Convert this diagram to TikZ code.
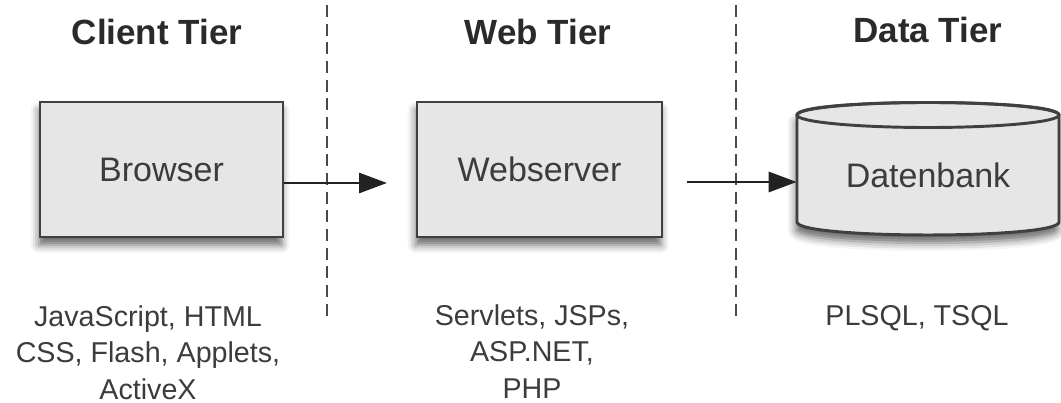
\documentclass[tikz,border=0pt]{standalone}
\usepackage{fontspec}
\setmainfont{Liberation Sans}
\usetikzlibrary{arrows.meta,shadows.blur}
\definecolor{boxfill}{HTML}{E6E6E6}
\definecolor{boxline}{HTML}{404040}
\definecolor{txt}{HTML}{3C3C3C}
\definecolor{titletxt}{HTML}{2A2A2A}
\definecolor{sepcol}{HTML}{4A4A4A}
\definecolor{arrcol}{HTML}{222222}
\begin{document}
\begin{tikzpicture}[x=0.75pt,y=-0.75pt,
  tier/.style={font=\bfseries\fontsize{26.25pt}{30pt}\selectfont, text=titletxt, anchor=base, inner sep=0pt},
  shad/.style={blur shadow={shadow xshift=-1pt, shadow yshift=-6pt, shadow blur radius=6pt, shadow opacity=60}},
  comp/.style={draw=boxline, line width=2.2pt, fill=boxfill, minimum width=243*0.75pt, minimum height=135*0.75pt, font=\fontsize{25.5pt}{30pt}\selectfont, text=txt, shad},
  dblabel/.style={minimum width=262*0.75pt, minimum height=30*0.75pt, inner sep=0pt, font=\fontsize{25.5pt}{30pt}\selectfont, text=txt},
  tech/.style={align=center, anchor=north, inner sep=0pt, font=\fontsize{21.5pt}{27.4pt}\selectfont, text=txt},
  sep/.style={draw=sepcol, line width=2pt, dash pattern=on 9pt off 5pt},
  arr/.style={draw=arrcol, line width=2.2pt, -{Triangle[length=21pt,width=15pt]}}
]
\useasboundingbox (0,0) rectangle (1061,403);

% tier titles
\node[tier] (tclient) at (157,45) {Client Tier};
\node[tier] (tweb) at (538,45) {Web Tier};
\node[tier] (tdata) at (928,43) {Data Tier};

% separators
\coordinate (s1a) at (327,5);
\coordinate (s1b) at (327,322);
\coordinate (s2a) at (736,5);
\coordinate (s2b) at (736,322);
\draw[sep] (s1a) -- (s1b);
\draw[sep] (s2a) -- (s2b);

% components
\node[comp] (browser) at (161.5,169.5) {Browser};
\node[comp, minimum width=245*0.75pt] (webserver) at (539.5,169.5) {Webserver};

% database cylinder
\path[fill=boxfill, draw=boxline, line width=2.2pt, shad]
  (797,115) -- (797,222) .. controls (797,239.3) and (1059,239.3) .. (1059,222)
  -- (1059,115) .. controls (1059,98.3) and (797,98.3) .. (797,115) -- cycle;
\draw[boxline, line width=2.2pt] (928,115) ellipse [x radius=131, y radius=12.5];
\node[dblabel] (db) at (928,175) {Datenbank};

% connectors
\coordinate (a1end) at (387,183);
\coordinate (a2start) at (687,182);
\draw[arr] (browser.east |- a1end) -- (a1end);
\draw[arr] (a2start) -- (db.west |- a2start);

% technologies
\node[tech] (techclient) at (148,305) {JavaScript, HTML\\CSS, Flash, Applets,\\ActiveX};
\node[tech] (techweb) at (532,304) {Servlets, JSPs,\\ASP.NET,\\PHP};
\node[tech] (techdata) at (917,305) {PLSQL, TSQL};
\end{tikzpicture}
\end{document}
